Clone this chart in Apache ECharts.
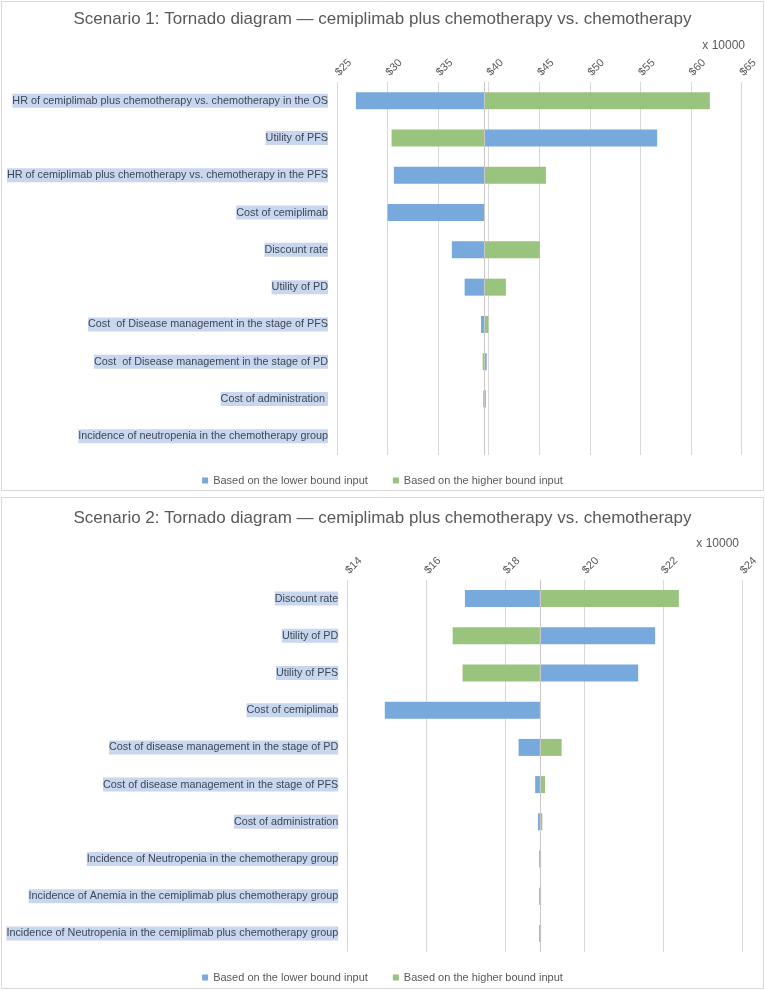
<!DOCTYPE html>
<html>
<head>
<meta charset="utf-8">
<script src="https://cdn.jsdelivr.net/npm/echarts@6/dist/echarts.min.js"></script>
<style>
html,body{margin:0;padding:0;background:#fff;}
#c{width:765px;height:991px;}
</style>
</head>
<body>
<div id="c"></div>
<script>
// ---------- Data (values in units of 10000 $) ----------
var title1 = 'Scenario 1: Tornado diagram \u2014 cemiplimab plus chemotherapy vs. chemotherapy';
var title2 = 'Scenario 2: Tornado diagram \u2014 cemiplimab plus chemotherapy vs. chemotherapy';
var cats1 = [
  'HR of cemiplimab plus chemotherapy vs. chemotherapy in the OS',
  'Utility of PFS',
  'HR of cemiplimab plus chemotherapy vs. chemotherapy in the PFS',
  'Cost of cemiplimab',
  'Discount rate',
  'Utility of PD',
  'Cost  of Disease management in the stage of PFS',
  'Cost  of Disease management in the stage of PD',
  'Cost of administration ',
  'Incidence of neutropenia in the chemotherapy group'
];
var base1 = 39.6;
var lower1 = [26.87, 56.66, 30.63, 30.0, 36.36, 37.62, 39.24, 39.8, 39.47, 39.59];
var higher1 = [61.87, 30.4, 45.66, 39.6, 45.06, 41.70, 39.97, 39.4, 39.73, 39.61];
var ticks1 = {min: 25, max: 65, interval: 5};

var cats2 = [
  'Discount rate',
  'Utility of PD',
  'Utility of PFS',
  'Cost of cemiplimab',
  'Cost of disease management in the stage of PD',
  'Cost of disease management in the stage of PFS',
  'Cost of administration',
  'Incidence of Neutropenia in the chemotherapy group',
  'Incidence of Anemia in the cemiplimab plus chemotherapy group',
  'Incidence of Neutropenia in the cemiplimab plus chemotherapy group'
];
var base2 = 18.88;
var lower2 = [16.98, 21.80, 21.37, 14.95, 18.34, 18.76, 18.83, 18.86, 18.86, 18.86];
var higher2 = [22.40, 16.67, 16.92, 18.88, 19.43, 19.01, 18.94, 18.91, 18.91, 18.91];
var ticks2 = {min: 14, max: 24, interval: 2};

var nameLow = 'Based on the lower bound input';
var nameHigh = 'Based on the higher bound input';
var unitText = 'x 10000';

// ---------- Styles ----------
var BLUE = '#77a9dd';
var GREEN = '#9ac37e';
var TXT = '#595959';
var GRIDC = '#d9d9d9';
var FONT = '"Liberation Sans", Arial, sans-serif';

function offsets(vals, base) { return vals.map(function (v) { return Math.min(v, base); }); }
function lengths(vals, base) { return vals.map(function (v) { return Math.abs(v - base); }); }

function makeSeries(idx, lower, higher, base) {
  var sb = 'b' + idx, sg = 'g' + idx;
  return [
    {type: 'bar', name: '_off_b' + idx, stack: sb, xAxisIndex: idx, yAxisIndex: idx,
     data: offsets(lower, base), itemStyle: {color: 'transparent'}, barWidth: 17, barGap: '-100%',
     silent: true, emphasis: {disabled: true}},
    {type: 'bar', name: nameLow, stack: sb, xAxisIndex: idx, yAxisIndex: idx,
     data: lengths(lower, base), itemStyle: {color: BLUE}, barWidth: 17, barGap: '-100%',
     markLine: {silent: true, symbol: 'none', label: {show: false},
       lineStyle: {color: '#c8c8c8', type: 'solid', width: 1},
       data: [{xAxis: base}]}},
    {type: 'bar', name: '_off_g' + idx, stack: sg, xAxisIndex: idx, yAxisIndex: idx,
     data: offsets(higher, base), itemStyle: {color: 'transparent'}, barWidth: 17, barGap: '-100%',
     silent: true, emphasis: {disabled: true}},
    {type: 'bar', name: nameHigh, stack: sg, xAxisIndex: idx, yAxisIndex: idx,
     data: lengths(higher, base), itemStyle: {color: GREEN}, barWidth: 17, barGap: '-100%'}
  ];
}

function xAxisCfg(idx, t) {
  return {
    type: 'value', gridIndex: idx, position: 'top', min: t.min, max: t.max, interval: t.interval,
    axisLine: {show: false}, axisTick: {show: false},
    splitLine: {show: true, lineStyle: {color: GRIDC, width: 1}},
    axisLabel: {rotate: -45, margin: 8, color: TXT, fontSize: 11, fontFamily: FONT,
      formatter: function (v) { return '$' + v; }}
  };
}
function yAxisCfg(idx, cats) {
  return {
    type: 'category', gridIndex: idx, data: cats, inverse: true,
    axisLine: {show: false}, axisTick: {show: false}, splitLine: {show: false},
    axisLabel: {margin: 9, color: '#3e4757', fontSize: 10.8, fontFamily: FONT,
      backgroundColor: '#c8d6ee', padding: [2, 0, 1, 0]}
  };
}

var chart = echarts.init(document.getElementById('c'), null, {renderer: 'canvas'});
var option = {
  animation: false,
  backgroundColor: '#fff',
  title: [
    {text: title1, left: 'center', top: 6, textStyle: {color: TXT, fontSize: 17, fontWeight: 'normal', fontFamily: FONT}},
    {text: title2, left: 'center', top: 505, textStyle: {color: TXT, fontSize: 17, fontWeight: 'normal', fontFamily: FONT}}
  ],
  legend: [
    {data: [nameLow, nameHigh], left: 'center', top: 470, icon: 'rect', itemWidth: 6, itemHeight: 6, itemGap: 25,
     textStyle: {color: TXT, fontSize: 11, fontFamily: FONT}, selectedMode: false},
    {data: [nameLow, nameHigh], left: 'center', top: 967, icon: 'rect', itemWidth: 6, itemHeight: 6, itemGap: 25,
     textStyle: {color: TXT, fontSize: 11, fontFamily: FONT}, selectedMode: false}
  ],
  grid: [
    {left: 337, right: 23.5, top: 82, height: 373, containLabel: false},
    {left: 347.3, right: 23, top: 580, height: 372, containLabel: false}
  ],
  xAxis: [xAxisCfg(0, ticks1), xAxisCfg(1, ticks2)],
  yAxis: [yAxisCfg(0, cats1), yAxisCfg(1, cats2)],
  graphic: [
    {type: 'rect', shape: {x: 1.5, y: 1.5, width: 762, height: 489}, style: {fill: 'none', stroke: GRIDC, lineWidth: 1}, silent: true},
    {type: 'rect', shape: {x: 1.5, y: 497.5, width: 762, height: 491}, style: {fill: 'none', stroke: GRIDC, lineWidth: 1}, silent: true},
    {type: 'text', right: 20, top: 40, style: {text: unitText, fill: TXT, fontSize: 12, fontFamily: FONT}, silent: true},
    {type: 'text', right: 26, top: 538, style: {text: unitText, fill: TXT, fontSize: 12, fontFamily: FONT}, silent: true}
  ],
  series: [].concat(makeSeries(0, lower1, higher1, base1), makeSeries(1, lower2, higher2, base2))
};
chart.setOption(option);
</script>
</body>
</html>
